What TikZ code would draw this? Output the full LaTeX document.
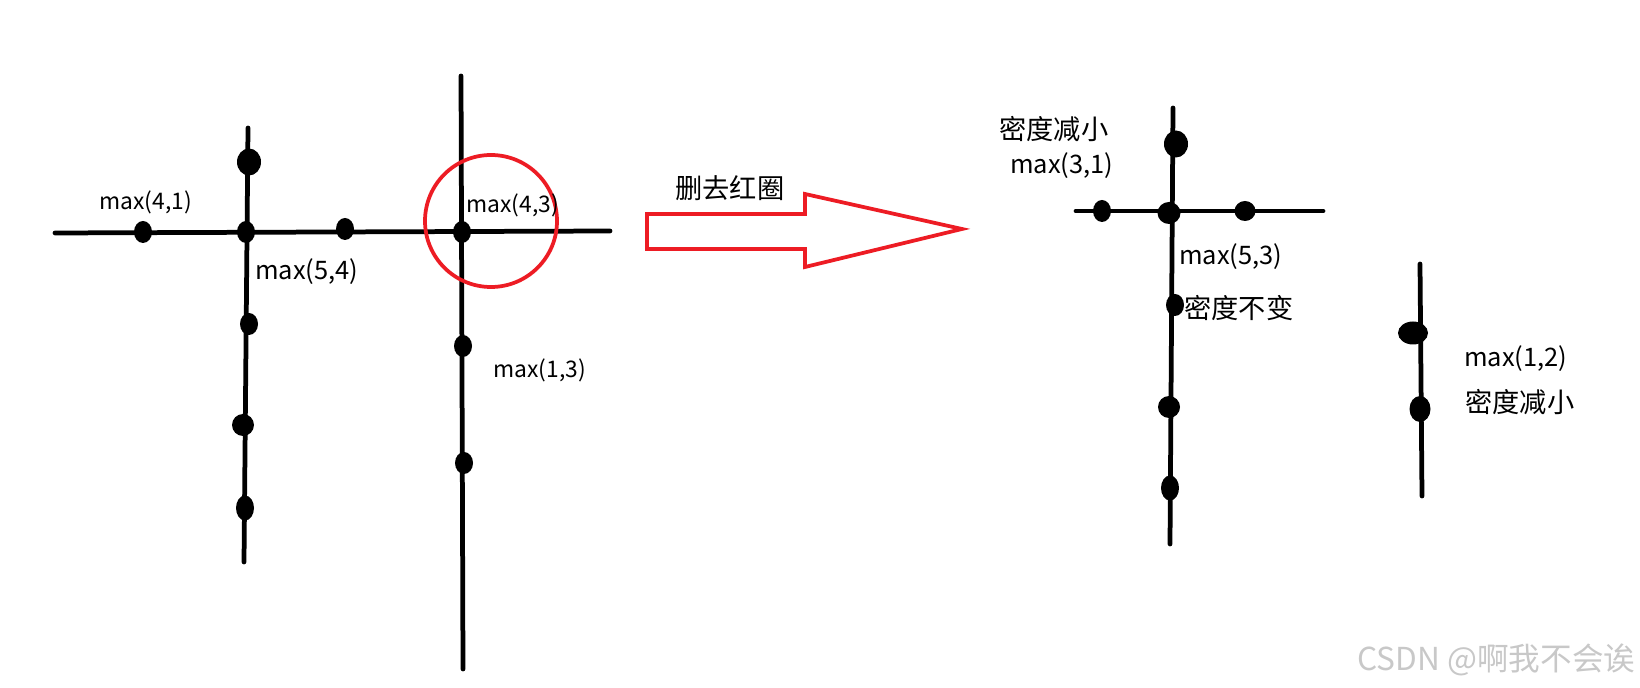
\documentclass[tikz,border=0pt]{standalone}
\usepackage{fontspec}
\setmainfont{Noto Sans CJK SC}
\usetikzlibrary{shapes.geometric}
\definecolor{paintred}{HTML}{ED1C24}
\definecolor{markgray}{HTML}{C8C8C8}

\begin{document}
\begin{tikzpicture}[
    x=0.02cm, y=-0.02cm,
    stroke/.style={line width=0.095cm, line cap=round},
    redline/.style={draw=paintred, line width=0.075cm},
    dot/.style={ellipse, fill, inner sep=0pt, minimum width=0.36cm, minimum height=0.44cm},
    bigdot/.style={ellipse, fill, inner sep=0pt, minimum width=0.48cm, minimum height=0.54cm},
    widedot/.style={ellipse, fill, inner sep=0pt, minimum width=0.6cm, minimum height=0.46cm},
    lab/.style={anchor=west, inner sep=0pt, font=\fontsize{13}{15}\selectfont},
    labB/.style={anchor=west, inner sep=0pt, font=\fontsize{14.5}{17}\selectfont},
    cjk/.style={anchor=west, inner sep=0pt, font=\fontsize{15.5}{18}\selectfont}
  ]
    \useasboundingbox (0,0) rectangle (1640,688);

    % left figure
    \coordinate (hA) at (55,233);
    \coordinate (hB) at (610,231);
    \coordinate (vA) at (248,128);
    \coordinate (vB) at (244,562);
    \coordinate (wA) at (461,76);
    \coordinate (wB) at (463,669);
    \draw[stroke] (hA) -- (hB);
    \draw[stroke] (vA) -- (vB);
    \draw[stroke] (wA) -- (wB);

    \node[bigdot] (p1) at (249,162) {};
    \node[dot] (p2) at (143,232) {};
    \node[dot] (p3) at (246,232) {};
    \node[dot] (p4) at (345,229) {};
    \node[dot] (p5) at (462,232) {};
    \node[dot] (p6) at (249,324) {};
    \node[dot, minimum width=0.44cm] (p7) at (243,425) {};
    \node[dot, minimum height=0.5cm] (p8) at (245,508) {};
    \node[dot] (p9) at (463,346) {};
    \node[dot] (p10) at (464,463) {};

    \draw[redline] (491,221) circle (66);

    \node[lab] (m41) at (99,202) {max(4,1)};
    \node[labB] (m54) at (255,272) {max(5,4)};
    \node[lab] (m43) at (466,205) {max(4,3)};
    \node[lab] (m13) at (493,370) {max(1,3)};

    % big arrow
    \draw[redline] (647,214) -- (805,214) -- (805,194) -- (962,229)
      -- (805,267) -- (805,249) -- (647,249) -- cycle;
    \node[cjk] (del) at (675,188) {删去红圈};

    % right figure
    \coordinate (rhA) at (1076,211);
    \coordinate (rhB) at (1323,211);
    \coordinate (rvA) at (1173,108);
    \coordinate (rvB) at (1170,544);
    \coordinate (svA) at (1420,264);
    \coordinate (svB) at (1422,496);
    \draw[stroke] (rhA) -- (rhB);
    \draw[stroke] (rvA) -- (rvB);
    \draw[stroke] (svA) -- (svB);

    \node[bigdot] (q1) at (1176,144) {};
    \node[dot] (q2) at (1102,211) {};
    \node[dot, minimum width=0.46cm] (q3) at (1169,213) {};
    \node[dot, minimum width=0.42cm, minimum height=0.4cm] (q4) at (1245,211) {};
    \node[dot] (q5) at (1175,305) {};
    \node[dot, minimum width=0.44cm] (q6) at (1169,407) {};
    \node[dot, minimum height=0.5cm] (q7) at (1170,488) {};
    \node[widedot] (q8) at (1413,333) {};
    \node[dot, minimum width=0.42cm, minimum height=0.52cm] (q9) at (1420,409) {};

    \node[cjk] (d1) at (999,129) {密度减小};
    \node[labB] (m31) at (1010,166) {max(3,1)};
    \node[labB] (m53) at (1179,257) {max(5,3)};
    \node[cjk] (d2) at (1184,308) {密度不变};
    \node[labB] (m12) at (1464,359) {max(1,2)};
    \node[cjk] (d3) at (1465,402) {密度减小};

    \node[anchor=west, inner sep=0pt, text=markgray, font=\fontsize{18}{20}\selectfont] (mark) at (1357,660) {CSDN @啊我不会诶};
\end{tikzpicture}
\end{document}
